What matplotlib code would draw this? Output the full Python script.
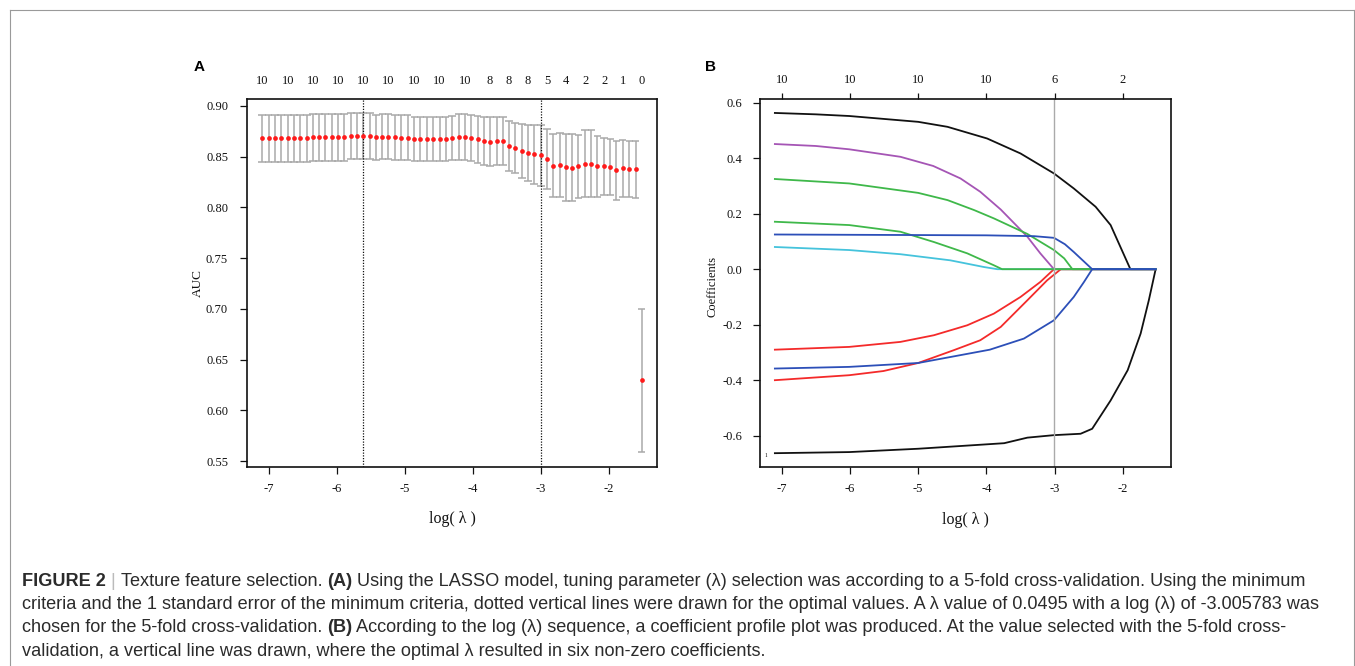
import matplotlib
matplotlib.use("Agg")
import matplotlib.pyplot as plt
from matplotlib.lines import Line2D
import numpy as np

W, H, DPI = 1355, 666, 100
plt.rcParams['axes.unicode_minus'] = False
SERIF = ['Liberation Serif', 'DejaVu Serif']
SANS = ['Liberation Sans', 'DejaVu Sans']

# ---------------- data ----------------
log_lambda = [-7.10, -7.00, -6.91, -6.82, -6.72, -6.63, -6.54, -6.44, -6.35, -6.26,
              -6.17, -6.07, -5.98, -5.89, -5.79, -5.70, -5.61, -5.51, -5.42, -5.33,
              -5.24, -5.14, -5.05, -4.96, -4.86, -4.77, -4.68, -4.58, -4.49, -4.40,
              -4.31, -4.21, -4.12, -4.03, -3.93, -3.84, -3.75, -3.65, -3.56, -3.47,
              -3.38, -3.28, -3.19, -3.10, -3.00, -2.91, -2.82, -2.72, -2.63, -2.54,
              -2.45, -2.35, -2.26, -2.17, -2.07, -1.98, -1.89, -1.80, -1.70, -1.61,
              -1.52]
auc_mean = [0.8684, 0.8684, 0.8684, 0.8684, 0.8684, 0.8684, 0.8684, 0.8684, 0.8691, 0.8691,
            0.8691, 0.8691, 0.8691, 0.8691, 0.8704, 0.8707, 0.8707, 0.8707, 0.8691, 0.8698,
            0.8698, 0.8691, 0.8688, 0.8688, 0.8671, 0.8671, 0.8678, 0.8671, 0.8678, 0.8678,
            0.8681, 0.8698, 0.8691, 0.8684, 0.8671, 0.8655, 0.8648, 0.8655, 0.8655, 0.8609,
            0.8586, 0.8553, 0.8536, 0.8523, 0.8512, 0.8478, 0.8412, 0.8418, 0.8397, 0.8391,
            0.8406, 0.8433, 0.8432, 0.8406, 0.8406, 0.8399, 0.8367, 0.8384, 0.8379, 0.8377,
            0.6295]
auc_sd = [0.0232, 0.0232, 0.0232, 0.0232, 0.0232, 0.0232, 0.0232, 0.0232, 0.0232, 0.0232,
          0.0232, 0.0232, 0.0232, 0.0232, 0.0228, 0.0228, 0.0228, 0.0228, 0.0222, 0.0222,
          0.0222, 0.0222, 0.0222, 0.0222, 0.0218, 0.0218, 0.0218, 0.0218, 0.0218, 0.0218,
          0.0218, 0.0228, 0.0228, 0.0225, 0.0235, 0.0240, 0.0240, 0.0235, 0.0235, 0.0245,
          0.0248, 0.0265, 0.0280, 0.0288, 0.0300, 0.0300, 0.0310, 0.0315, 0.0330, 0.0330,
          0.0310, 0.0335, 0.0330, 0.0300, 0.0280, 0.0275, 0.0290, 0.0280, 0.0280, 0.0280,
          0.0705]
top_idx_a = [0, 4, 8, 12, 16, 20, 24, 28, 32, 36, 39, 42, 45, 48, 51, 54, 57, 60]
top_labels_a = ["10", "10", "10", "10", "10", "10", "10", "10", "10",
                "8", "8", "8", "5", "4", "2", "2", "1", "0"]
log_lambda_min = -5.613
log_lambda_1se = -3.005783
auc_yticks = [0.55, 0.60, 0.65, 0.70, 0.75, 0.80, 0.85, 0.90]
x_ticks = [-7, -6, -5, -4, -3, -2]
top_labels_b = ["10", "10", "10", "10", "6", "2"]
coef_yticks = [-0.6, -0.4, -0.2, 0.0, 0.2, 0.4, 0.6]

# coefficient paths (log lambda, coefficient)
black_lo_x = [-7.10, -6.01, -5.00, -3.99, -3.74, -3.40, -3.01, -2.62, -2.45, -2.18, -1.93, -1.74, -1.62, -1.52]
black_lo_y = [-0.663, -0.659, -0.647, -0.631, -0.627, -0.607, -0.598, -0.593, -0.575, -0.473, -0.364, -0.232, -0.112, 0.0]
black_up_x = [-7.10, -6.50, -6.01, -5.00, -4.57, -3.99, -3.50, -3.01, -2.72, -2.40, -2.18, -1.89, -1.52]
black_up_y = [0.563, 0.558, 0.552, 0.531, 0.513, 0.471, 0.417, 0.345, 0.291, 0.225, 0.159, 0.0, 0.0]
purple_x = [-7.10, -6.50, -6.01, -5.26, -4.78, -4.38, -4.09, -3.79, -3.40, -3.21, -3.01, -1.52]
purple_y = [0.451, 0.444, 0.432, 0.405, 0.372, 0.327, 0.279, 0.215, 0.117, 0.057, 0.0, 0.0]
red_a_x = [-7.10, -6.01, -5.26, -4.77, -4.28, -3.89, -3.50, -3.21, -3.01, -1.52]
red_a_y = [-0.290, -0.280, -0.262, -0.238, -0.202, -0.160, -0.100, -0.046, 0.0, 0.0]
red_b_x = [-7.10, -6.01, -5.51, -5.00, -4.48, -4.09, -3.79, -3.40, -3.11, -2.91, -1.52]
red_b_y = [-0.400, -0.382, -0.367, -0.338, -0.292, -0.256, -0.208, -0.112, -0.040, 0.0, 0.0]
cyan_x = [-7.10, -6.01, -5.26, -4.53, -4.04, -3.84, -1.52]
cyan_y = [0.080, 0.069, 0.054, 0.032, 0.008, 0.0, 0.0]
green_lo_x = [-7.10, -6.01, -5.26, -4.77, -4.28, -3.89, -3.77, -1.52]
green_lo_y = [0.171, 0.159, 0.135, 0.098, 0.057, 0.014, 0.0, 0.0]
green_up_x = [-7.10, -6.01, -5.00, -4.57, -4.18, -3.89, -3.40, -3.01, -2.86, -2.74, -1.52]
green_up_y = [0.325, 0.309, 0.275, 0.249, 0.213, 0.183, 0.127, 0.069, 0.039, 0.0, 0.0]
blue_lo_x = [-7.10, -6.01, -5.00, -3.95, -3.45, -3.01, -2.72, -2.57, -2.45, -1.52]
blue_lo_y = [-0.358, -0.352, -0.338, -0.290, -0.250, -0.184, -0.100, -0.046, 0.0, 0.0]
blue_up_x = [-7.10, -5.00, -4.00, -3.30, -3.01, -2.85, -2.72, -2.45, -1.52]
blue_up_y = [0.125, 0.123, 0.122, 0.119, 0.113, 0.090, 0.062, 0.0, 0.0]

caption_lines = [
    [("FIGURE 2", "bold"), (" | ", "light"), ("Texture feature selection. ", "normal"), ("(A)", "bold"),
     (" Using the LASSO model, tuning parameter (\u03bb) selection was according to a 5-fold cross-validation. Using the minimum", "normal")],
    [("criteria and the 1 standard error of the minimum criteria, dotted vertical lines were drawn for the optimal values. A \u03bb value of 0.0495 with a log (\u03bb) of -3.005783 was", "normal")],
    [("chosen for the 5-fold cross-validation. ", "normal"), ("(B)", "bold"),
     (" According to the log (\u03bb) sequence, a coefficient profile plot was produced. At the value selected with the 5-fold cross-", "normal")],
    [("validation, a vertical line was drawn, where the optimal \u03bb resulted in six non-zero coefficients.", "normal")],
]

# ---------------- figure ----------------
fig = plt.figure(figsize=(W / DPI, H / DPI), dpi=DPI)
fig.patch.set_facecolor('white')


def fx(x):
    return x / W


def fy(y):
    return 1 - y / H


# outer gray frame
for xs, ys in [([9.5, 9.5], [9.5, 672]), ([9.5, 1353.5], [9.5, 9.5]), ([1353.5, 1353.5], [9.5, 672])]:
    fig.add_artist(Line2D([fx(v) for v in xs], [fy(v) for v in ys], color='#9a9a9a', lw=0.8,
                          transform=fig.transFigure))

AX_TOP, AX_BOT = 99.3, 466.7
XLIM = (-7.318, -1.295)
TXT = '#111111'


def style_axes(ax, ypad):
    for s in ax.spines.values():
        s.set_linewidth(1.2)
        s.set_color(TXT)
    ax.tick_params(axis='both', direction='out', length=5, width=0.9, color=TXT,
                   labelsize=9, labelcolor=TXT)
    ax.tick_params(axis='x', pad=7.0)
    ax.tick_params(axis='y', pad=ypad)
    for lab in ax.get_xticklabels() + ax.get_yticklabels():
        lab.set_family(SERIF)


# ---------- Panel A ----------
axA = fig.add_axes([fx(247), fy(AX_BOT), (657 - 247) / W, (AX_BOT - AX_TOP) / H])
x = np.array(log_lambda)
m = np.array(auc_mean)
sd = np.array(auc_sd)
up, lo = m + sd, m - sd
barw = 0.01 * (x.max() - x.min())
ecol = '#a9a9a9'
axA.vlines(x, lo, up, color=ecol, lw=1.1)
axA.hlines(up, x - barw, x + barw, color=ecol, lw=1.1)
axA.hlines(lo, x - barw, x + barw, color=ecol, lw=1.1)
axA.plot(x, m, 'o', color='#ff1a1a', ms=3.4, mec='none', zorder=3)
for v in (log_lambda_min, log_lambda_1se):
    axA.axvline(v, color=TXT, lw=0.9, ls=(0, (1, 1.2)))
axA.set_xlim(*XLIM)
axA.set_ylim(0.5444, 0.9066)
axA.set_xticks(x_ticks)
axA.set_xticklabels([str(t) for t in x_ticks])
axA.set_yticks(auc_yticks)
axA.set_yticklabels([f"{t:.2f}" for t in auc_yticks])
style_axes(axA, 8.6)

axA2 = axA.twiny()
axA2.set_xlim(*XLIM)
axA2.set_xticks([log_lambda[i] for i in top_idx_a])
axA2.set_xticklabels(top_labels_a, family=SERIF, fontsize=9, color=TXT)
axA2.tick_params(axis='x', length=0, pad=9.2)
for s in axA2.spines.values():
    s.set_visible(False)

fig.text(fx(452), fy(519), "log( \u03bb )", family=SERIF, fontsize=11.5, ha='center', va='center', color=TXT)
fig.text(fx(198), fy(283), "AUC", family=SERIF, fontsize=9.5, ha='center', va='center', rotation=90, color=TXT)
fig.text(fx(199), fy(67), "A", family=SANS, fontsize=11, fontweight='bold', ha='center', va='center')

# ---------- Panel B ----------
axB = fig.add_axes([fx(760), fy(AX_BOT), (1171 - 760) / W, (AX_BOT - AX_TOP) / H])
paths = [
    (black_lo_x, black_lo_y, '#111111'),
    (black_up_x, black_up_y, '#111111'),
    (purple_x, purple_y, '#a555b5'),
    (red_a_x, red_a_y, '#f42a2a'),
    (red_b_x, red_b_y, '#f42a2a'),
    (cyan_x, cyan_y, '#45c3dc'),
    (green_lo_x, green_lo_y, '#3fb84a'),
    (green_up_x, green_up_y, '#3fb84a'),
    (blue_lo_x, blue_lo_y, '#2c4fb8'),
    (blue_up_x, blue_up_y, '#2c4fb8'),
]
for px, py, c in paths:
    axB.plot(px, py, color=c, lw=1.3, solid_joinstyle='round')
axB.axvline(log_lambda_1se, color='#aaaaaa', lw=1.0)
axB.set_xlim(*XLIM)
axB.set_ylim(-0.7117, 0.6122)
axB.set_xticks(x_ticks)
axB.set_xticklabels([str(t) for t in x_ticks])
axB.set_yticks(coef_yticks)
axB.set_yticklabels([f"{t:.1f}" for t in coef_yticks])
style_axes(axB, 8.0)
axB.text(-7.23, -0.67, "1", family=SERIF, fontsize=4, ha='center', va='center')

axB2 = axB.twiny()
axB2.set_xlim(*XLIM)
axB2.set_xticks(x_ticks)
axB2.set_xticklabels(top_labels_b, family=SERIF, fontsize=9, color=TXT)
axB2.tick_params(axis='x', direction='out', length=4.5, width=0.9, color=TXT, pad=5.0)
for s in axB2.spines.values():
    s.set_visible(False)

fig.text(fx(965), fy(520), "log( \u03bb )", family=SERIF, fontsize=11.5, ha='center', va='center', color=TXT)
fig.text(fx(712), fy(286), "Coefficients", family=SERIF, fontsize=9, ha='center', va='center', rotation=90, color=TXT)
fig.text(fx(711), fy(67), "B", family=SANS, fontsize=11, fontweight='bold', ha='center', va='center')

# ---------- caption ----------
fig.canvas.draw()
renderer = fig.canvas.get_renderer()
probe = fig.text(0, 0, caption_lines[1][0][0], family=SANS, fontsize=10)
w10 = probe.get_window_extent(renderer=renderer).width
probe.remove()
cap_size = 10 * (1325 - 22) / w10
baselines = [586, 609, 632, 656]
for runs, yb in zip(caption_lines, baselines):
    xcur = 22
    for txt, wt in runs:
        col = '#bbbbbb' if wt == 'light' else '#2b2b2b'
        weight = 'normal' if wt == 'light' else wt
        t = fig.text(fx(xcur), fy(yb), txt, family=SANS, fontsize=cap_size, fontweight=weight,
                     color=col, ha='left', va='baseline')
        xcur += t.get_window_extent(renderer=renderer).width

fig.savefig("out.png", dpi=DPI, facecolor='white')
